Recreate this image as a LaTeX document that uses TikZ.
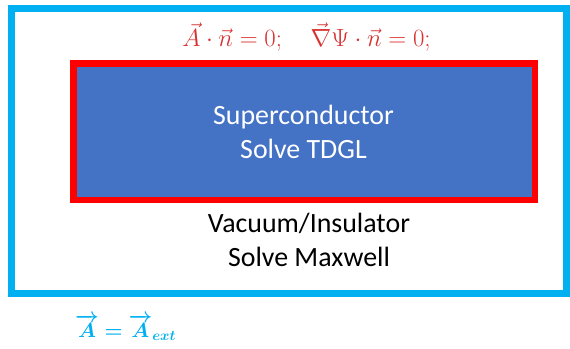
\documentclass[tikz,border=0pt]{standalone}
\usepackage{fontspec}
\usepackage{amsmath,bm}
\setmainfont{Carlito}
\definecolor{cyanframe}{HTML}{00B0F0}
\definecolor{redframe}{HTML}{FF0000}
\definecolor{scblue}{HTML}{4472C4}
\definecolor{formred}{HTML}{D93030}
\begin{document}
\begin{tikzpicture}[x=1bp,y=-1bp,
  lbl/.style={inner sep=0pt, anchor=base, font=\fontsize{28}{32}\selectfont}]
\useasboundingbox (0,0) rectangle (570,348);
\fill[white] (0,0) rectangle (570,348);
\draw[cyanframe, line width=7bp] (11.5,8.5) rectangle (566.5,293.5);
\node[draw=redframe, fill=scblue, line width=6.5bp, minimum width=461.5bp, minimum height=136.5bp, inner sep=0pt] (sc) at (304.25,131.75) {};
\node[lbl, text=white] (sc1) at (303.5,124) {Superconductor};
\node[lbl, text=white] (sc2) at (303.5,158) {Solve TDGL};
\node[lbl, text=black] (vac1) at (309,232) {Vacuum/Insulator};
\node[lbl, text=black] (vac2) at (309,266) {Solve Maxwell};
\node[lbl, text=formred, font=\fontsize{24.5}{28}\selectfont] (bc) at (306.5,46.5) {$\vec{A}\cdot\vec{n}=0;\quad \vec{\nabla}\Psi\cdot\vec{n}=0;$};
\node[lbl, anchor=base west, text=cyanframe, font=\fontsize{22}{26}\selectfont] (ext) at (75,337) {$\bm{\overrightarrow{A}=\overrightarrow{A}_{ext}}$};
\end{tikzpicture}
\end{document}
